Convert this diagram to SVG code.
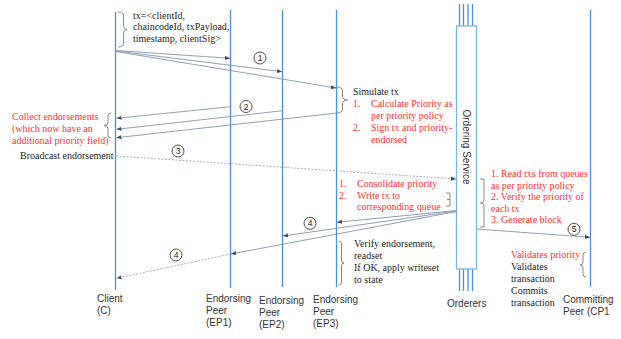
<svg xmlns="http://www.w3.org/2000/svg" width="621" height="339" viewBox="0 0 621 339">
<style>
.life{stroke:#4a8fd8;stroke-width:1.3;fill:none}
.msg{stroke:#8593aa;stroke-width:0.9;fill:none}
.dash{stroke:#9aa3b3;stroke-width:0.9;fill:none;stroke-dasharray:2 1.5}
.br{stroke:#7a7a7a;stroke-width:0.9;fill:none}
.s{font-family:"Liberation Serif","Times New Roman",serif;font-size:10px;fill:#1e1e1e}
.r{fill:#ff3030}
.a{font-family:"Liberation Sans",Arial,sans-serif;font-size:10px;fill:#333}
.num{font-family:"Liberation Sans",Arial,sans-serif;font-size:8.5px;fill:#222;text-anchor:middle}
.c{fill:#fff;stroke:#222;stroke-width:0.8}
</style>
<defs>
<marker id="ah" viewBox="0 0 6 6" refX="6" refY="3" markerWidth="5" markerHeight="5" markerUnits="userSpaceOnUse" orient="auto">
<path d="M0,0.5 L6,3 L0,5.5 Z" fill="#3c4a66"/>
</marker>
</defs>
<rect width="621" height="339" fill="#fff"/>

<g id="client">
<line class="life" x1="115.5" y1="12" x2="115.5" y2="290"/>
<text class="a" x="97" y="302">Client</text>
<text class="a" x="97" y="314">(C)</text>
</g>
<g id="ep1">
<line class="life" x1="230.5" y1="10" x2="230.5" y2="288"/>
<text class="a" x="206" y="302">Endorsing</text>
<text class="a" x="206" y="314">Peer</text>
<text class="a" x="206" y="326">(EP1)</text>
</g>
<g id="ep2">
<line class="life" x1="282.5" y1="10" x2="282.5" y2="287"/>
<text class="a" x="259" y="304">Endorsing</text>
<text class="a" x="259" y="316">Peer</text>
<text class="a" x="259" y="328">(EP2)</text>
</g>
<g id="ep3">
<line class="life" x1="336.5" y1="10" x2="336.5" y2="287"/>
<text class="a" x="313" y="303">Endorsing</text>
<text class="a" x="313" y="315">Peer</text>
<text class="a" x="313" y="327">(EP3)</text>
</g>
<g id="orderers">
<line class="life" x1="459.5" y1="4" x2="459.5" y2="26"/>
<line class="life" x1="463.5" y1="4" x2="463.5" y2="26"/>
<line class="life" x1="468" y1="4" x2="468" y2="26"/>
<line class="life" x1="472.5" y1="4" x2="472.5" y2="26"/>
<line class="life" x1="459.5" y1="269" x2="459.5" y2="291"/>
<line class="life" x1="463.5" y1="269" x2="463.5" y2="291"/>
<line class="life" x1="468" y1="269" x2="468" y2="291"/>
<line class="life" x1="472.5" y1="269" x2="472.5" y2="291"/>
<rect x="456.5" y="26" width="20" height="243" fill="#fff" stroke="#7db4e8" stroke-width="1.3"/>
<text class="a" transform="translate(466,147) rotate(90)" x="0" y="3.5" text-anchor="middle">Ordering Service</text>
<text class="a" x="447" y="307">Orderers</text>
</g>
<g id="cp1">
<line class="life" x1="590.5" y1="10" x2="590.5" y2="287"/>
<text class="a" x="563" y="303">Committing</text>
<text class="a" x="563" y="315">Peer (CP1</text>
</g>

<g id="notes">
<text class="s" x="133" y="18.5">tx=&lt;clientId,</text>
<text class="s" x="133" y="30">chaincodeId, txPayload,</text>
<text class="s" x="133" y="41.5">timestamp, clientSig&gt;</text>
<path class="br" d="M118,12 Q123.5,12 123.5,16 V25.5 Q123.5,29.5 127,29.5 Q123.5,29.5 123.5,33.5 V43 Q123.5,47 118,47"/>

<text class="s r" x="12" y="120">Collect endorsements</text>
<text class="s r" x="12" y="132">(which now have an</text>
<text class="s r" x="12" y="144">additional priority field)</text>
<path class="br" d="M111,113 Q108,113 108,116 V122.5 Q108,125.5 104,125.5 Q108,125.5 108,128.5 V135 Q108,138 111,138"/>
<text class="s" x="20" y="159">Broadcast endorsement</text>

<text class="s" x="353" y="95">Simulate tx</text>
<text class="s r" x="353" y="107">1.</text>
<text class="s r" x="371" y="107">Calculate Priority as</text>
<text class="s r" x="371" y="119">per priority policy</text>
<text class="s r" x="353" y="131">2.</text>
<text class="s r" x="371" y="131">Sign tx and priority-</text>
<text class="s r" x="371" y="143">endorsed</text>
<path class="br" d="M337,87 Q342.5,87 342.5,91 V96 Q342.5,100 347.5,100 Q342.5,100 342.5,104 V109 Q342.5,113 337,113"/>

<text class="s r" x="339" y="187">1.</text>
<text class="s r" x="357" y="187">Consolidate priority</text>
<text class="s r" x="339" y="198.5">2.</text>
<text class="s r" x="357" y="198.5">Write tx to</text>
<text class="s r" x="357" y="210">corresponding queue</text>
<path class="br" d="M446,193 H450 V206 H446 M450,199.5 H447"/>

<text class="s r" x="491" y="177">1. Read txs from queues</text>
<text class="s r" x="491" y="188.5">as per priority policy</text>
<text class="s r" x="491" y="200">2. Verify the priority of</text>
<text class="s r" x="491" y="211.5">each tx</text>
<text class="s r" x="491" y="223">3. Generate block</text>
<path class="br" d="M480,179 H484 V200 Q484,203 480.5,203 Q484,203 484,206 V227 H480"/>

<text class="s" x="354" y="247">Verify endorsement,</text>
<text class="s" x="354" y="259">readset</text>
<text class="s" x="354" y="271">If OK, apply writeset</text>
<text class="s" x="354" y="283">to state</text>
<path class="br" d="M339,241 Q341.5,241 341.5,244 V260 Q341.5,263 344,263 Q341.5,263 341.5,266 V282 Q341.5,285 339,285"/>

<text class="s r" x="511" y="258">Validates priority</text>
<text class="s" x="511" y="270">Validates</text>
<text class="s" x="511" y="282">transaction</text>
<text class="s" x="511" y="294">Commits</text>
<text class="s" x="511" y="306">transaction</text>
<path class="br" d="M586,252 Q583,252 583,255 V262 Q583,265 580,265 Q583,265 583,268 V274 Q583,277 586,277"/>
</g>

<g id="connectors">
<line class="msg" x1="116" y1="50.5" x2="230" y2="58.3" marker-end="url(#ah)"/>
<line class="msg" x1="116" y1="51" x2="282" y2="71.7" marker-end="url(#ah)"/>
<line class="msg" x1="116" y1="51.5" x2="336" y2="88" marker-end="url(#ah)"/>
<circle class="c" cx="260" cy="58" r="6"/><text class="num" x="260" y="61">1</text>

<line class="msg" x1="230.5" y1="106.7" x2="116.5" y2="118.3" marker-end="url(#ah)"/>
<line class="msg" x1="282.5" y1="110.7" x2="116.5" y2="129.3" marker-end="url(#ah)"/>
<line class="msg" x1="337" y1="113" x2="116.5" y2="137.7" marker-end="url(#ah)"/>
<circle class="c" cx="246" cy="106.5" r="6"/><text class="num" x="246" y="109.5">2</text>

<line class="dash" x1="116" y1="156" x2="456" y2="179" marker-end="url(#ah)"/>
<circle class="c" cx="178" cy="151" r="6"/><text class="num" x="178" y="154">3</text>

<line class="msg" x1="456.5" y1="210.5" x2="337" y2="222.3" marker-end="url(#ah)"/>
<line class="msg" x1="456.5" y1="211" x2="283" y2="236" marker-end="url(#ah)"/>
<line class="msg" x1="456.5" y1="211.5" x2="231" y2="254" marker-end="url(#ah)"/>
<line class="dash" x1="230.5" y1="254" x2="116.5" y2="278.3" marker-end="url(#ah)"/>
<circle class="c" cx="310" cy="223.3" r="6"/><text class="num" x="310" y="226.3">4</text>
<circle class="c" cx="176" cy="255" r="6"/><text class="num" x="176" y="258">4</text>

<line class="msg" x1="476.5" y1="229" x2="590" y2="237.3" marker-end="url(#ah)"/>
<circle class="c" cx="574" cy="229.3" r="6"/><text class="num" x="574" y="232.3">5</text>
</g>
</svg>
